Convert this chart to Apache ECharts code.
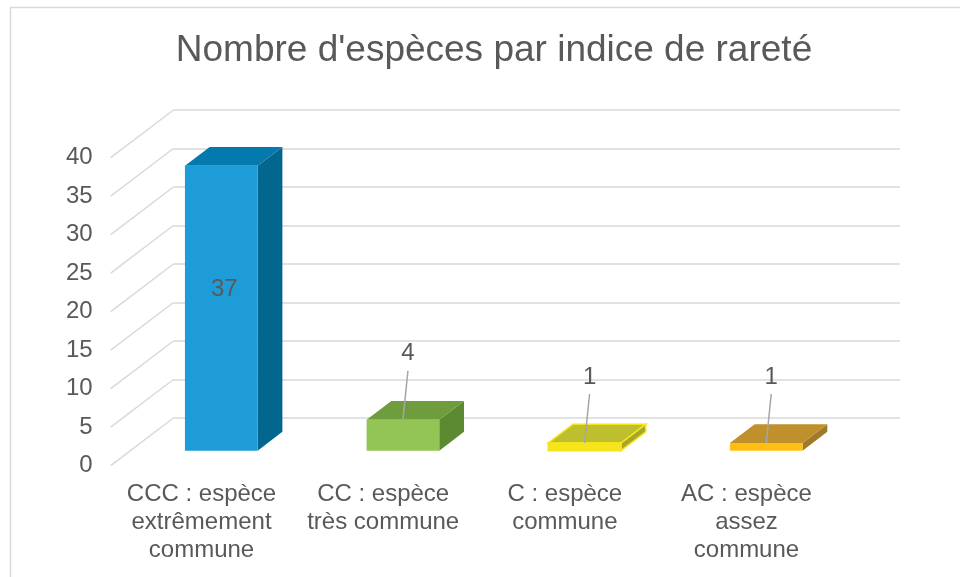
<!DOCTYPE html>
<html>
<head>
<meta charset="utf-8">
<script src="https://cdn.jsdelivr.net/npm/echarts@6/dist/echarts.min.js"></script>
<style>
    html, body { margin: 0; padding: 0; background: #fff; }
    #chart { width: 960px; height: 577px; }
</style>
</head>
<body>
<div id="chart"></div>
<script>
// données
var categories = ['CCC : espèce extrêmement commune', 'CC : espèce très commune', 'C : espèce commune', 'AC : espèce assez commune'];
var categoryLabels = ['CCC : espèce\nextrêmement\ncommune', 'CC : espèce\ntrès commune', 'C : espèce\ncommune', 'AC : espèce\nassez\ncommune'];
var values = [37, 4, 1, 1];
var yTicks = [0, 5, 10, 15, 20, 25, 30, 35, 40];

// couleurs des faces (avant, dessus, côté)
var faceColors = [
    {front: '#1d9cd8', top: '#0479ae', side: '#02668f', stroke: null},
    {front: '#92c555', top: '#6f9c3d', side: '#5b8a33', stroke: null},
    {front: '#f5e51a', top: '#bdbf2f', side: '#a6a62a', stroke: '#f5e51a'},
    {front: '#ffbf12', top: '#c0902c', side: '#a17a28', stroke: null}
];
var textColor = '#595959';
var fontFam = 'Liberation Sans';

// profondeur de la vue 3D (décalage mur du fond / plan avant)
var DX = 62.7, DY = 47.7;
var F0 = 0.315, F1 = 0.71; // début / fin des barres dans la profondeur

var chart = echarts.init(document.getElementById('chart'));

var option = {
    animation: false,
    title: {
        text: "Nombre d'espèces par indice de rareté",
        left: 489,
        textAlign: 'center',
        top: 27,
        textStyle: {color: textColor, fontSize: 37, fontWeight: 'normal', fontFamily: fontFam}
    },
    graphic: [{
        type: 'rect',
        shape: {x: 10.5, y: 7.5, width: 980, height: 600},
        style: {fill: 'none', stroke: '#d9d9d9', lineWidth: 1.5},
        silent: true
    }],
    grid: [
        // plan avant (étiquettes + barres)
        {left: 110.7, right: 122.7, top: 157.7, bottom: 111.3},
        // mur du fond (quadrillage)
        {left: 173.4, right: 60, top: 110, bottom: 159}
    ],
    xAxis: [
        {
            gridIndex: 0,
            type: 'category',
            data: categories,
            axisLine: {show: false},
            axisTick: {show: false},
            axisLabel: {
                interval: 0,
                margin: 15,
                color: textColor,
                fontSize: 24,
                lineHeight: 28,
                fontFamily: fontFam,
                formatter: function (val, idx) { return categoryLabels[idx]; }
            }
        },
        {
            gridIndex: 1,
            type: 'category',
            data: categories,
            show: false
        }
    ],
    yAxis: [
        {
            gridIndex: 0,
            type: 'value',
            min: 0, max: 40, interval: 5,
            axisLine: {show: false},
            axisTick: {show: false},
            splitLine: {show: false},
            axisLabel: {margin: 18, color: textColor, fontSize: 24, fontFamily: fontFam}
        },
        {
            gridIndex: 1,
            type: 'value',
            min: 0, max: 40, interval: 5,
            axisLine: {show: false},
            axisTick: {show: false},
            axisLabel: {show: false},
            splitLine: {lineStyle: {color: '#d9d9d9', width: 1.5}}
        }
    ],
    series: [
        {
            // diagonales du mur latéral
            type: 'custom',
            xAxisIndex: 1,
            yAxisIndex: 1,
            silent: true,
            data: yTicks.map(function (v) { return [0, v]; }),
            encode: {x: 0, y: 1},
            renderItem: function (params, api) {
                var y = api.coord([0, api.value(1)])[1];
                var x0 = params.coordSys.x;
                return {
                    type: 'line',
                    shape: {x1: x0 - DX, y1: y + DY, x2: x0, y2: y},
                    style: {stroke: '#d9d9d9', lineWidth: 1.5}
                };
            }
        },
        {
            type: 'custom',
            xAxisIndex: 0,
            yAxisIndex: 0,
            data: values.map(function (v, i) { return [i, v]; }),
            encode: {x: 0, y: 1},
            renderItem: function (params, api) {
                var i = api.value(0), v = api.value(1);
                var base = api.coord([i, 0]);
                var top = api.coord([i, v]);
                var bw = api.size([1, 0])[0] * 0.4;
                var cx = base[0] + F0 * DX;
                var xl = cx - bw / 2, xr = cx + bw / 2;
                var yb = base[1] - F0 * DY, yt = top[1] - F0 * DY;
                var ddx = (F1 - F0) * DX, ddy = (F1 - F0) * DY;
                var c = faceColors[i];
                var lw = c.stroke ? 1.5 : 0;
                var children = [
                    {type: 'polygon', shape: {points: [[xr, yt], [xr + ddx, yt - ddy], [xr + ddx, yb - ddy], [xr, yb]]},
                        style: {fill: c.side, stroke: c.stroke, lineWidth: lw}},
                    {type: 'polygon', shape: {points: [[xl, yt], [xr, yt], [xr + ddx, yt - ddy], [xl + ddx, yt - ddy]]},
                        style: {fill: c.top, stroke: c.stroke, lineWidth: lw}},
                    {type: 'rect', shape: {x: xl, y: yt, width: bw, height: yb - yt},
                        style: {fill: c.front, stroke: c.stroke, lineWidth: lw}}
                ];
                if (yb - yt > 60) {
                    // étiquette à l'intérieur
                    children.push({type: 'text', style: {
                        text: String(v), x: cx + 3, y: (yb + yt) / 2 - ddy,
                        align: 'center', verticalAlign: 'middle',
                        fill: textColor, fontSize: 24, fontFamily: fontFam}});
                } else {
                    // étiquette avec ligne de rappel
                    children.push({type: 'line', shape: {x1: cx, y1: yt, x2: cx + 5, y2: yt - 49},
                        style: {stroke: '#a6a6a6', lineWidth: 1.5}});
                    children.push({type: 'text', style: {
                        text: String(v), x: cx + 5, y: yt - 66,
                        align: 'center', verticalAlign: 'middle',
                        fill: textColor, fontSize: 24, fontFamily: fontFam}});
                }
                return {type: 'group', children: children};
            }
        }
    ]
};

chart.setOption(option);
window.onresize = function () {
    chart.resize();
};
</script>
</body>
</html>
